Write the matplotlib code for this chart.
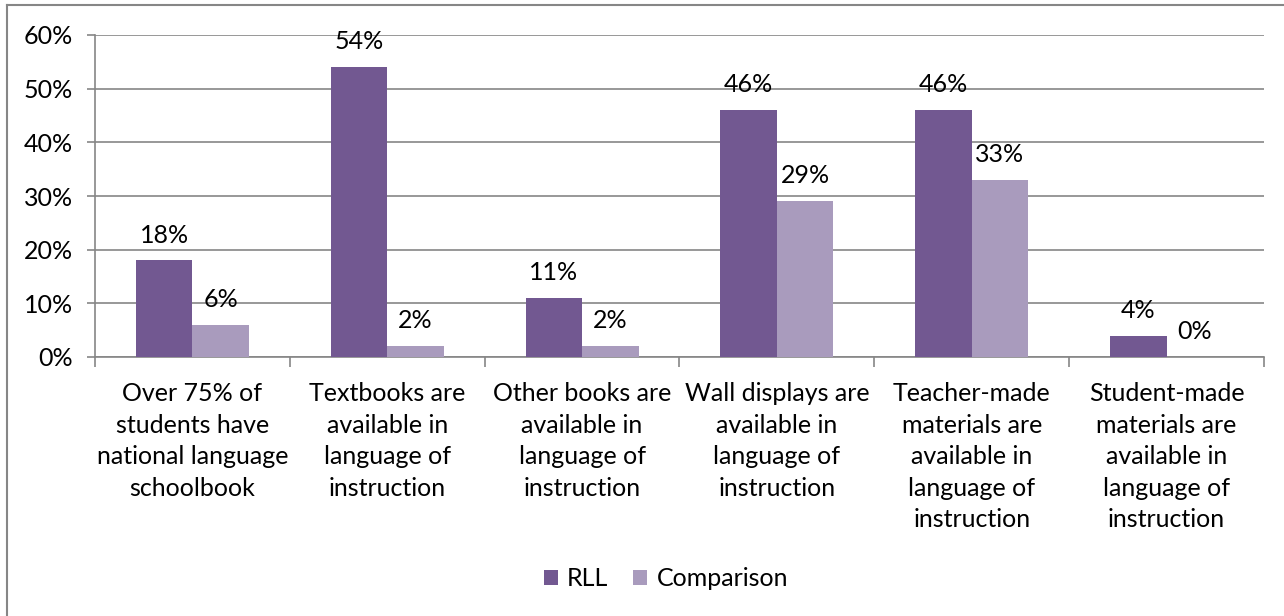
import matplotlib.pyplot as plt
from matplotlib.lines import Line2D
import numpy as np

categories = [
    "Over 75% of\nstudents have\nnational language\nschoolbook",
    "Textbooks are\navailable in\nlanguage of\ninstruction",
    "Other books are\navailable in\nlanguage of\ninstruction",
    "Wall displays are\navailable in\nlanguage of\ninstruction",
    "Teacher-made\nmaterials are\navailable in\nlanguage of\ninstruction",
    "Student-made\nmaterials are\navailable in\nlanguage of\ninstruction",
]
rll = [18, 54, 11, 46, 46, 4]
comparison = [6, 2, 2, 29, 33, 0]
yticks = [0, 10, 20, 30, 40, 50, 60]

purple = "#725891"
lilac = "#a99bbd"
gray = "#868686"
fs = 18

plt.rcParams['font.family'] = ['Lato', 'DejaVu Sans']

fig = plt.figure(figsize=(12.84, 6.16), dpi=100)
ax = fig.add_axes([95 / 1284, 1 - 357 / 616, (1264 - 95) / 1284, (357 - 35) / 616])

x = np.arange(len(categories))
w = 0.29
b1 = ax.bar(x - w / 2, rll, w, color=purple, label="RLL", zorder=3)
b2 = ax.bar(x + w / 2, comparison, w, color=lilac, label="Comparison", zorder=3)

for bars, vals in ((b1, rll), (b2, comparison)):
    for bar, v in zip(bars, vals):
        ax.annotate(f"{v}%", (bar.get_x() + bar.get_width() / 2, v),
                    xytext=(0, 10), textcoords="offset points",
                    ha="center", va="bottom", fontsize=fs)

ax.set_xlim(-0.5, len(categories) - 0.5)
ax.set_ylim(0, 60)
ax.set_yticks(yticks)
ax.set_yticklabels([f"{t}%" for t in yticks], fontsize=fs)
ax.yaxis.grid(True, color=gray, linewidth=1.2, zorder=0)
ax.tick_params(axis="y", length=6, color=gray, width=1.2, pad=10)

# category separators as minor ticks, labels on major positions
ax.set_xticks(x)
ax.set_xticklabels(categories, fontsize=fs, linespacing=1.45, va="top")
ax.set_xticks(np.arange(-0.5, len(categories)), minor=True)
ax.tick_params(axis="x", which="major", length=0, pad=18)
ax.tick_params(axis="x", which="minor", length=7, color=gray, width=1.2)

for side in ("top", "right"):
    ax.spines[side].set_visible(False)
for side in ("left", "bottom"):
    ax.spines[side].set_color(gray)
    ax.spines[side].set_linewidth(1.2)

fig.legend(loc="center", bbox_to_anchor=(666 / 1284, 1 - 579 / 616), ncol=2,
           frameon=False, fontsize=fs, handlelength=0.56, handleheight=0.56,
           handletextpad=0.36, columnspacing=1.0)

# outer chart border
fig.add_artist(Line2D([6.5 / 1284, 6.5 / 1284], [0, 1 - 5 / 616],
                      transform=fig.transFigure, color=gray, linewidth=1.5))
fig.add_artist(Line2D([6.5 / 1284, 1], [1 - 5 / 616, 1 - 5 / 616],
                      transform=fig.transFigure, color=gray, linewidth=1.5))

fig.savefig("out.png", dpi=100)
